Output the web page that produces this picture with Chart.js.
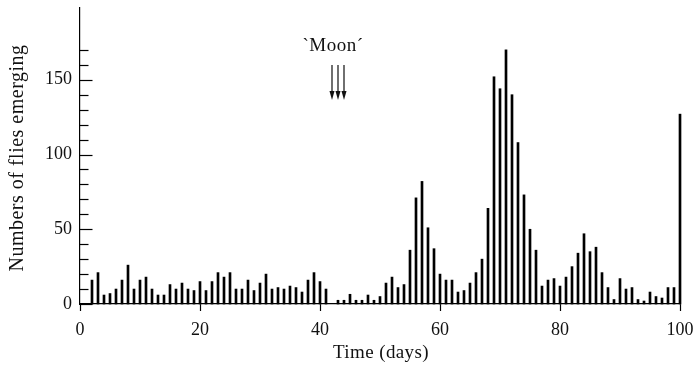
<!DOCTYPE html>
<html>
<head>
<meta charset="utf-8">
<script src="https://cdn.jsdelivr.net/npm/chart.js@4.4.1/dist/chart.umd.min.js"></script>
<style>
  html, body { margin: 0; padding: 0; background: #fff; }
  #wrap { width: 698px; height: 377px; position: relative; }
</style>
</head>
<body>
<div id="wrap"><canvas id="c" width="698" height="377"></canvas></div>
<script>
// ---- Data ----
const daysEarly = [2,3,4,5,6,7,8,9,10,11,12,13,14,15,16,17,18,19,20,21,
                   22,23,24,25,26,27,28,29,30,31,32,33,34,35,36,37,38,39,40,41];
const fliesEarly = [16,21,6,7,10,16,26,10,16,18,10,6,6,13,10,14,10,9,15,9,
                    15,21,18,21,10,10,16,9,14,20,10,11,10,12,11,8,16,21,15,10];
const daysLate = [43,44,45,46,47,48,49,50,51,52,53,54,55,56,57,58,59,60,61,62,
                  63,64,65,66,67,68,69,70,71,72,73,74,75,76,77,78,79,80,81,82,
                  83,84,85,86,87,88,89,90,91,92,93,94,95,96,97,98,99,100];
const fliesLate = [2.5,2.5,6.5,2.5,2.5,6,2.5,5,14,18,11,13,36,71,82,51,37,20,16,16,
                   8,9,14,21,30,64,152,144,170,140,108,73,50,36,12,16,17,12,18,25,
                   34,47,35,38,21,11,3,17,10,11,3,2,8,5,4,11,11,127];
const xTickValues = [0, 20, 40, 60, 80, 100];
const yTickValues = [0, 50, 100, 150];
const yMinorTicks = [0,10,20,30,40,50,60,70,80,90,100,110,120,130,140,150,160,170];
const moonDays = [42, 43, 44];
const moonLabel = '`Moon\u00b4';
const xTitle = 'Time (days)';
const yTitle = 'Numbers of flies emerging';

const points = daysEarly.map((d, i) => ({ x: d, y: fliesEarly[i] }))
  .concat(daysLate.map((d, i) => ({ x: d, y: fliesLate[i] })));

const SERIF = '"Liberation Serif", "Times New Roman", serif';

const decor = {
  id: 'decor',
  afterDraw(chart) {
    const ctx = chart.ctx;
    const xs = chart.scales.x, ys = chart.scales.y;
    const left = chart.chartArea.left;
    ctx.save();
    // inward y ticks
    ctx.strokeStyle = '#000';
    ctx.lineWidth = 1.2;
    yMinorTicks.forEach(v => {
      const y = Math.round(ys.getPixelForValue(v)) + 0.5;
      const len = (v % 50 === 0) ? 12.5 : 8.5;
      ctx.beginPath();
      ctx.moveTo(left, y);
      ctx.lineTo(left + len, y);
      ctx.stroke();
    });
    // titles
    ctx.fillStyle = '#111';
    ctx.font = '19px ' + SERIF;
    ctx.textAlign = 'center';
    ctx.textBaseline = 'alphabetic';
    try { ctx.letterSpacing = '0.4px'; } catch (e) {}
    ctx.fillText(xTitle, (xs.left + xs.right) / 2 + 1, 358);
    ctx.save();
    ctx.font = '20px ' + SERIF;
    try { ctx.letterSpacing = '0.5px'; } catch (e) {}
    ctx.translate(23, 158);
    ctx.rotate(-Math.PI / 2);
    ctx.fillText(yTitle, 0, 0);
    ctx.restore();
    // Moon label and arrows
    try { ctx.letterSpacing = '0.5px'; } catch (e) {}
    const xm = xs.getPixelForValue(moonDays[1]);
    ctx.fillText(moonLabel, xm - 5, 51);
    try { ctx.letterSpacing = '0px'; } catch (e) {}
    ctx.strokeStyle = '#222';
    ctx.fillStyle = '#111';
    ctx.lineWidth = 1.3;
    moonDays.forEach(d => {
      const x = xs.getPixelForValue(d);
      ctx.beginPath();
      ctx.moveTo(x, 65);
      ctx.lineTo(x, 93);
      ctx.stroke();
      ctx.beginPath();
      ctx.moveTo(x - 2.5, 91);
      ctx.lineTo(x + 2.5, 91);
      ctx.lineTo(x, 100);
      ctx.closePath();
      ctx.fill();
    });
    ctx.restore();
  }
};

new Chart(document.getElementById('c'), {
  type: 'bar',
  data: {
    datasets: [{
      data: points,
      backgroundColor: '#000',
      borderWidth: 0,
      barThickness: 2,
      clip: 4
    }]
  },
  options: {
    responsive: false,
    animation: false,
    events: [],
    layout: { padding: { left: 0, right: 18, top: 8, bottom: 0 } },
    plugins: { legend: { display: false }, tooltip: { enabled: false } },
    scales: {
      x: {
        type: 'linear',
        min: 0, max: 100,
        offset: false,
        afterBuildTicks: s => { s.ticks = xTickValues.map(v => ({ value: v })); },
        afterFit: s => { s.height = 73; s.paddingLeft = 0; s.paddingRight = 0; },
        grid: { display: true, drawOnChartArea: false, drawTicks: true, tickLength: 7,
                tickWidth: 1.2, tickColor: '#000', offset: false },
        border: { display: true, color: '#000', width: 1.2 },
        ticks: { color: '#111', font: { family: SERIF, size: 18 }, padding: 8,
                 maxRotation: 0, autoSkip: false }
      },
      y: {
        min: 0, max: 198,
        afterBuildTicks: s => { s.ticks = yTickValues.map(v => ({ value: v })); },
        afterFit: s => { s.width = 80; s.paddingTop = 0; s.paddingBottom = 0; },
        grid: { display: false, drawTicks: false },
        border: { display: true, color: '#000', width: 1.2 },
        ticks: { color: '#111', font: { family: SERIF, size: 18 }, padding: 8 }
      }
    }
  },
  plugins: [decor]
});
</script>
</body>
</html>
